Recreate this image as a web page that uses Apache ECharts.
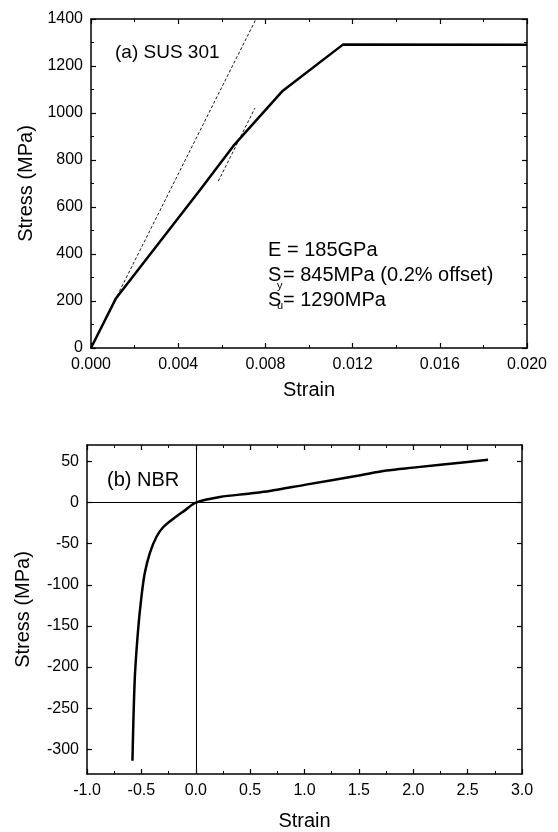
<!DOCTYPE html>
<html><head><meta charset="utf-8">
<script src="https://cdn.jsdelivr.net/npm/echarts@6/dist/echarts.min.js"></script>
<style>html,body{margin:0;padding:0;background:#fff}#c{width:558px;height:832px}</style>
</head><body><div id="c"></div>
<script>
// (a) SUS 301
const susStrain = [0, 0.00115, 0.0050, 0.00653, 0.0088, 0.01157, 0.0200];
const susStress = [0, 212, 672, 860, 1095, 1292, 1290];
const elasticStrain = [0.0012, 0.00757];
const elasticStress = [222, 1400];
const offsetStrain = [0.00584, 0.00752];
const offsetStress = [710, 1021];
// (b) NBR
const nbrStrain = [-0.582, -0.561, -0.530, -0.499, -0.469, -0.423, -0.361, -0.30, -0.20, -0.10, 0, 0.221, 0.5, 0.68, 1.0, 1.5, 1.753, 2.0, 2.5, 2.688];
const nbrStress = [-314, -215, -154.6, -114, -86, -61.7, -41.6, -30, -19, -9.5, 0, 6.8, 11, 14, 21.5, 33, 39, 42.5, 49.4, 52];
const nbrYTicks = [-300, -250, -200, -150, -100, -50, 0, 50];

const FONT = 'Liberation Sans, Arial, sans-serif';
const pairs = (xs, ys) => xs.map((x, i) => [x, ys[i]]);

const axLine = {show: true, onZero: false, lineStyle: {color: '#000', width: 1.5}};
const tickIn = {show: true, inside: true, length: 5, lineStyle: {color: '#000', width: 1.2}};
const minorIn = {show: true, splitNumber: 2, length: 3, lineStyle: {color: '#000', width: 1}};
const lab = (fmt, margin) => ({show: true, color: '#000', fontSize: 16, fontFamily: FONT, margin: margin, formatter: fmt});
const nameStyle = {color: '#000', fontSize: 20, fontFamily: FONT};
const txt = (t, x, y, fs) => ({type: 'text', left: x, top: y, style: {text: t, fontSize: fs, fontFamily: FONT, fill: '#000'}});

const chart = echarts.init(document.getElementById('c'), null, {renderer: 'canvas'});
chart.setOption({
  animation: false,
  backgroundColor: '#fff',
  grid: [
    {left: 91, top: 19, width: 436, height: 329, containLabel: false},
    {left: 87, top: 445, width: 435, height: 329, containLabel: false}
  ],
  xAxis: [
    {gridIndex: 0, type: 'value', min: 0, max: 0.02, interval: 0.004, position: 'bottom',
     axisLine: axLine, axisTick: tickIn, minorTick: minorIn, splitLine: {show: false},
     axisLabel: lab(v => v.toFixed(3), 9),
     name: 'Strain', nameLocation: 'middle', nameGap: 32, nameTextStyle: nameStyle},
    {gridIndex: 0, type: 'value', min: 0, max: 0.02, interval: 0.004, position: 'top',
     axisLine: axLine, axisTick: tickIn, minorTick: minorIn, splitLine: {show: false}, axisLabel: {show: false}},
    {gridIndex: 1, type: 'value', min: -1, max: 3, interval: 0.5, position: 'bottom',
     axisLine: axLine, axisTick: tickIn, minorTick: minorIn, splitLine: {show: false},
     axisLabel: lab(v => v.toFixed(1), 9),
     name: 'Strain', nameLocation: 'middle', nameGap: 37, nameTextStyle: nameStyle},
    {gridIndex: 1, type: 'value', min: -1, max: 3, interval: 0.5, position: 'top',
     axisLine: axLine, axisTick: tickIn, minorTick: minorIn, splitLine: {show: false}, axisLabel: {show: false}}
  ],
  yAxis: [
    {gridIndex: 0, type: 'value', min: 0, max: 1400, interval: 200, position: 'left',
     axisLine: axLine, axisTick: tickIn, minorTick: minorIn, splitLine: {show: false},
     axisLabel: lab(v => String(v), 8),
     name: 'Stress (MPa)', nameLocation: 'middle', nameGap: 55, nameTextStyle: nameStyle},
    {gridIndex: 0, type: 'value', min: 0, max: 1400, interval: 200, position: 'right',
     axisLine: axLine, axisTick: tickIn, minorTick: minorIn, splitLine: {show: false}, axisLabel: {show: false}},
    {gridIndex: 1, type: 'value', min: -330, max: 70, position: 'left',
     axisLine: axLine,
     axisTick: Object.assign({}, tickIn, {customValues: nbrYTicks}),
     splitLine: {show: false},
     axisLabel: Object.assign(lab(v => String(v), 8), {customValues: nbrYTicks}),
     name: 'Stress (MPa)', nameLocation: 'middle', nameGap: 54, nameTextStyle: nameStyle},
    {gridIndex: 1, type: 'value', min: -330, max: 70, position: 'right',
     axisLine: axLine,
     axisTick: Object.assign({}, tickIn, {customValues: nbrYTicks}),
     splitLine: {show: false}, axisLabel: {show: false}}
  ],
  series: [
    {type: 'line', xAxisIndex: 0, yAxisIndex: 0, data: pairs(susStrain, susStress), showSymbol: false,
     lineStyle: {color: '#000', width: 2.5}, z: 5},
    {type: 'line', xAxisIndex: 0, yAxisIndex: 0, data: pairs(elasticStrain, elasticStress), showSymbol: false,
     lineStyle: {color: '#000', width: 0.9, type: [3, 2]}, z: 4},
    {type: 'line', xAxisIndex: 0, yAxisIndex: 0, data: pairs(offsetStrain, offsetStress), showSymbol: false,
     lineStyle: {color: '#000', width: 0.9, type: [3, 2]}, z: 4},
    {type: 'line', xAxisIndex: 2, yAxisIndex: 2, data: pairs(nbrStrain, nbrStress), showSymbol: false, smooth: 0.3,
     lineStyle: {color: '#000', width: 2.5}, z: 5,
     markLine: {silent: true, symbol: 'none', label: {show: false},
       lineStyle: {color: '#000', width: 1, type: 'solid'},
       data: [{xAxis: 0}, {yAxis: 0}]}}
  ],
  graphic: [
    txt('(a) SUS 301', 115, 43, 19),
    txt('E = 185GPa', 268, 240, 20),
    txt('S', 268, 265, 20),
    txt('y', 277, 280, 11),
    txt('= 845MPa (0.2% offset)', 283, 265, 20),
    txt('S', 268, 290, 20),
    txt('u', 277, 300, 11),
    txt('= 1290MPa', 283, 290, 20),
    txt('(b) NBR', 107, 470, 20)
  ]
});
</script>
</body></html>
